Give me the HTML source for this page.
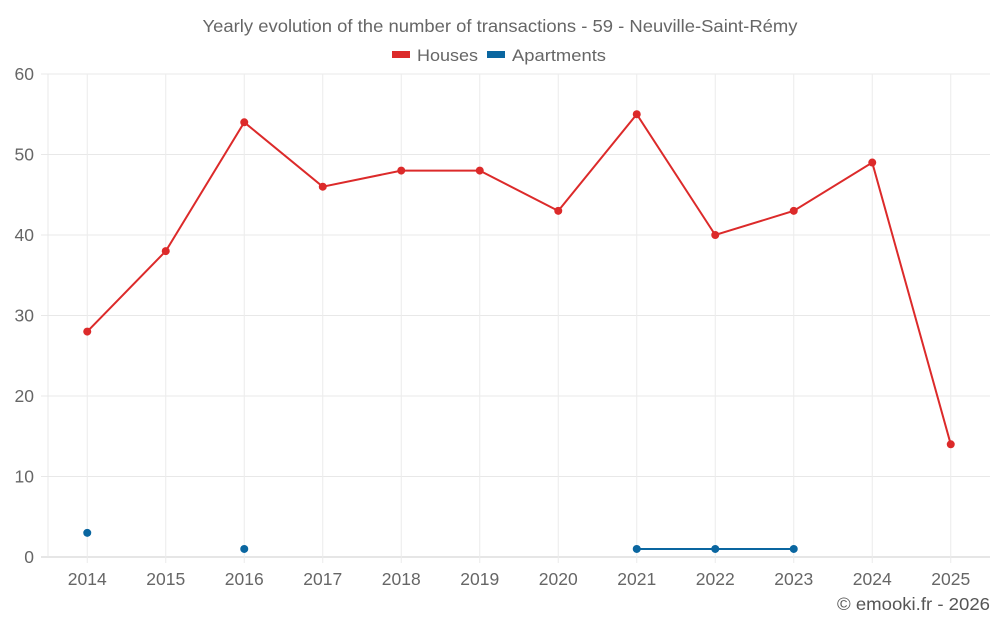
<!DOCTYPE html>
<html><head><meta charset="utf-8"><style>
body{margin:0;background:#fff;width:1000px;height:625px;overflow:hidden;font-family:"Liberation Sans",sans-serif}
</style></head><body>
<svg id="chart" width="1000" height="625" xmlns="http://www.w3.org/2000/svg">
<text x="500" y="32" text-anchor="middle" font-size="17.5" fill="#666" textLength="595" lengthAdjust="spacingAndGlyphs">Yearly evolution of the number of transactions - 59 - Neuville-Saint-Rémy</text>
<g><rect x="392" y="51" width="18" height="7" fill="#dc2a2a"/><text x="417" y="61" font-size="17" fill="#666" textLength="61" lengthAdjust="spacingAndGlyphs">Houses</text></g>
<g><rect x="487" y="51" width="18" height="7" fill="#0a66a0"/><text x="512" y="61" font-size="17" fill="#666" textLength="94" lengthAdjust="spacingAndGlyphs">Apartments</text></g>
<g id="grid"></g><g id="axes"></g><g id="series"></g>
<text x="990" y="610" text-anchor="end" font-size="17.5" fill="#555" textLength="153" lengthAdjust="spacingAndGlyphs">© emooki.fr - 2026</text>
</svg>
<script>
const years=["2014","2015","2016","2017","2018","2019","2020","2021","2022","2023","2024","2025"];
const houses=[28,38,54,46,48,48,43,55,40,43,49,14];
const apartments=[3,null,1,null,null,null,null,1,1,1,null,null];
const yTicks=[0,10,20,30,40,50,60];
const NS="http://www.w3.org/2000/svg";
const L=48,R=990,T=74,B=557,yMax=60;
const step=(R-L)/12;
const x=i=>L+step*(i+0.5);
const y=v=>B-(v/yMax)*(B-T);
function mk(tag,attrs,parent){const e=document.createElementNS(NS,tag);for(const k in attrs)e.setAttribute(k,attrs[k]);parent.appendChild(e);return e;}
const grid=document.getElementById('grid'),axes=document.getElementById('axes'),ser=document.getElementById('series');
yTicks.forEach(t=>{
 const l=mk('line',{x1:41,x2:R,y1:y(t),y2:y(t),stroke:t===0?'#ccc':'#e8e8e8','stroke-width':1},grid);
 
 
 const tx=mk('text',{x:34,y:y(t)+6,'text-anchor':'end','font-size':17.5,fill:'#666'},axes);
 tx.textContent=t;
 
 
});
mk('line',{x1:L,x2:L,y1:T,y2:B,stroke:'#e8e8e8'},grid);
years.forEach((yr,i)=>{
 const l=mk('line',{x1:x(i),x2:x(i),y1:T,y2:B+6,stroke:'#ececec'},grid);
 
 
 const tx=mk('text',{x:x(i),y:585,'text-anchor':'middle','font-size':17.5,fill:'#666'},axes);
 tx.textContent=yr;
 
 
});
function draw(vals,color,name){
 let d='',pen=false;
 vals.forEach((v,i)=>{if(v==null){pen=false;return;}d+=(pen?'L':'M')+x(i)+','+y(v);pen=true;});
 const p=mk('path',{d:d,fill:'none',stroke:color,'stroke-width':2},ser);
 
 
 vals.forEach((v,i)=>{if(v==null)return;
  const c=mk('circle',{cx:x(i),cy:y(v),r:4,fill:color},ser);
  
  
 });
}
draw(houses,'#dc2a2a','houses');
draw(apartments,'#0a66a0','apartments');
</script>
</body></html>
